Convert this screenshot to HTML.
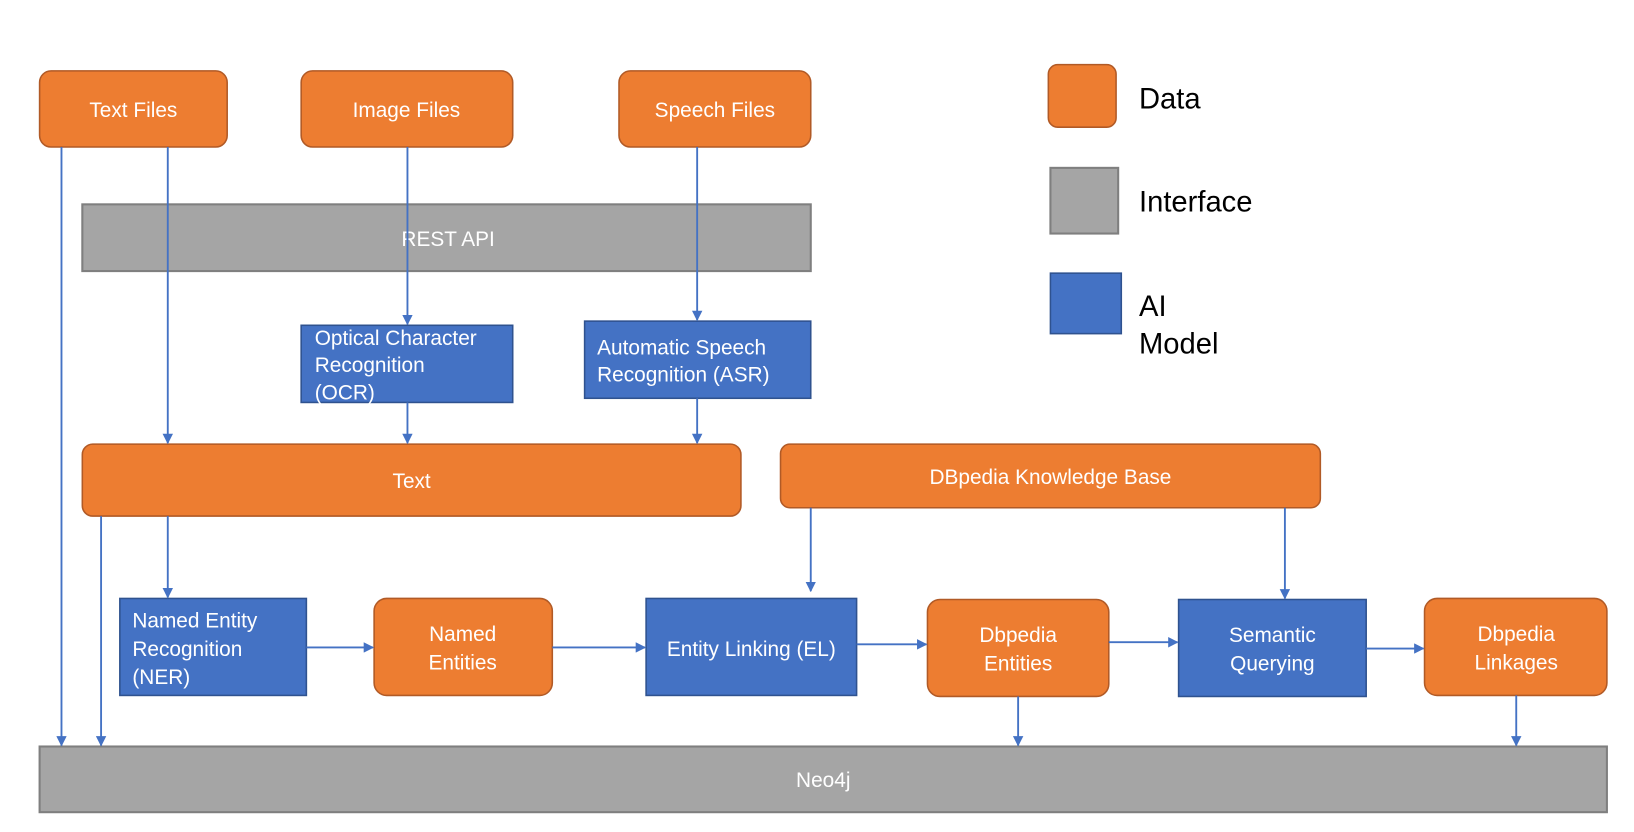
<!DOCTYPE html>
<html><head><meta charset="utf-8"><style>
html,body{margin:0;padding:0;background:#fff;}
svg{display:block;}
text{font-family:"Liberation Sans",sans-serif;fill:#fff;font-size:20px;}
.o{fill:#ED7D31;stroke:#B15A26;stroke-width:1.5;}
.b{fill:#4472C4;stroke:#2F528F;stroke-width:1.5;}
.g{fill:#A5A5A5;stroke:#7F7F7F;stroke-width:2;}
.l{stroke:#4472C4;stroke-width:1.8;fill:none;marker-end:url(#ah);}
.k{fill:#000;font-size:28px;}
</style></head><body>
<svg width="1634" height="832" viewBox="0 0 1568 798" preserveAspectRatio="none" xmlns="http://www.w3.org/2000/svg">
<defs><marker id="ah" markerWidth="10" markerHeight="10" refX="9" refY="5" orient="auto" markerUnits="userSpaceOnUse"><path d="M0,0 L10,5 L0,10 z" fill="#4472C4"/></marker></defs>
<rect class="o" x="38" y="68" width="180" height="73" rx="11"/>
<text x="128" y="112" text-anchor="middle">Text Files</text>
<rect class="o" x="289" y="68" width="203" height="73" rx="11"/>
<text x="390" y="112" text-anchor="middle">Image Files</text>
<rect class="o" x="594" y="68" width="184" height="73" rx="11"/>
<text x="686" y="112" text-anchor="middle">Speech Files</text>
<rect class="g" x="79" y="196" width="699" height="64"/>
<text x="430" y="236" text-anchor="middle">REST API</text>
<rect class="b" x="289" y="312" width="203" height="74"/>
<text x="302" y="331">Optical Character</text>
<text x="302" y="357">Recognition</text>
<text x="302" y="383">(OCR)</text>
<rect class="b" x="561" y="308" width="217" height="74"/>
<text x="573" y="340">Automatic Speech</text>
<text x="573" y="366">Recognition (ASR)</text>
<rect class="o" x="79" y="426" width="632" height="69" rx="10"/>
<text x="395" y="468" text-anchor="middle">Text</text>
<rect class="o" x="749" y="426" width="518" height="61" rx="9"/>
<text x="1008" y="464" text-anchor="middle">DBpedia Knowledge Base</text>
<rect class="b" x="115" y="574" width="179" height="93"/>
<text x="127" y="602">Named Entity</text>
<text x="127" y="629">Recognition</text>
<text x="127" y="656">(NER)</text>
<rect class="o" x="359" y="574" width="171" height="93" rx="12"/>
<text x="444" y="615" text-anchor="middle">Named</text>
<text x="444" y="642" text-anchor="middle">Entities</text>
<rect class="b" x="620" y="574" width="202" height="93"/>
<text x="721" y="629" text-anchor="middle">Entity Linking (EL)</text>
<rect class="o" x="890" y="575" width="174" height="93" rx="12"/>
<text x="977" y="616" text-anchor="middle">Dbpedia</text>
<text x="977" y="643" text-anchor="middle">Entities</text>
<rect class="b" x="1131" y="575" width="180" height="93"/>
<text x="1221" y="616" text-anchor="middle">Semantic</text>
<text x="1221" y="643" text-anchor="middle">Querying</text>
<rect class="o" x="1367" y="574" width="175" height="93" rx="12"/>
<text x="1455" y="615" text-anchor="middle">Dbpedia</text>
<text x="1455" y="642" text-anchor="middle">Linkages</text>
<rect class="g" x="38" y="716" width="1504" height="63"/>
<text x="790" y="755" text-anchor="middle">Neo4j</text>
<rect class="o" x="1006" y="62" width="65" height="60" rx="9"/>
<text class="k" x="1093" y="104">Data</text>
<rect class="g" x="1008" y="161" width="65" height="63"/>
<text class="k" x="1093" y="203">Interface</text>
<rect class="b" x="1008" y="262" width="68" height="58"/>
<text class="k" x="1093" y="303">AI</text>
<text class="k" x="1093" y="339">Model</text>
<path class="l" d="M59,141 V715"/>
<path class="l" d="M161,141 V425"/>
<path class="l" d="M391,141 V311"/>
<path class="l" d="M669,141 V307"/>
<path class="l" d="M391,386 V425"/>
<path class="l" d="M669,382 V425"/>
<path class="l" d="M97,495 V715"/>
<path class="l" d="M161,495 V573"/>
<path class="l" d="M778,487 V567"/>
<path class="l" d="M1233,487 V574"/>
<path class="l" d="M294,621 H358"/>
<path class="l" d="M530,621 H619"/>
<path class="l" d="M822,618 H889"/>
<path class="l" d="M1064,616 H1130"/>
<path class="l" d="M1311,622 H1366"/>
<path class="l" d="M977,668 V715"/>
<path class="l" d="M1455,667 V715"/>
</svg>
</body></html>
